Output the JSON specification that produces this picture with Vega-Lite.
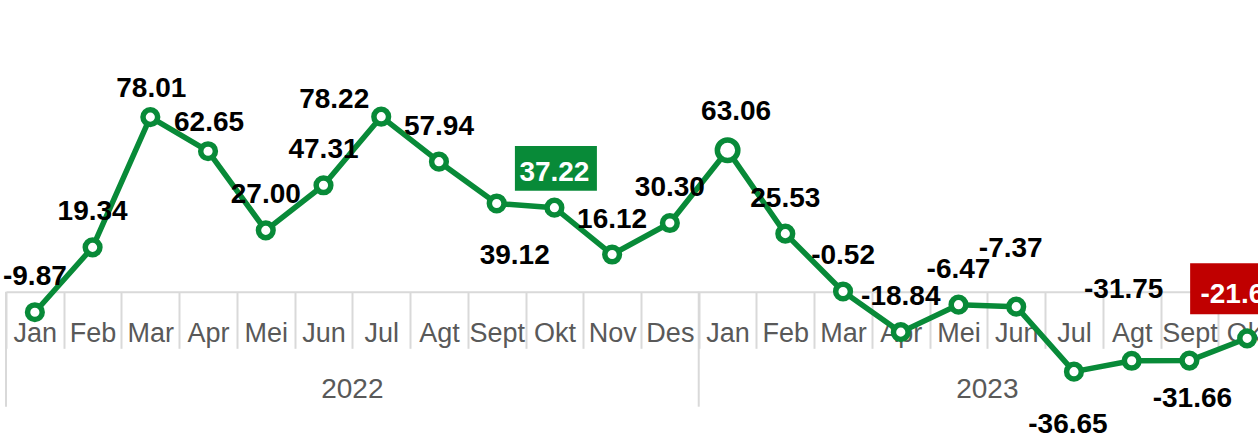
{
  "$schema": "https://vega.github.io/schema/vega-lite/v6.json",
  "width": 1258,
  "height": 435,
  "padding": 0,
  "autosize": {"type": "none"},
  "background": "white",
  "config": {
    "view": {"stroke": null},
    "locale": {"number": {"decimal": ".", "thousands": ",", "grouping": [3], "currency": ["$", ""], "minus": "-"}},
    "text": {"font": "Liberation Sans", "fontSize": 28, "fontWeight": "bold", "color": "#000000", "align": "center", "baseline": "alphabetic"}
  },
  "data": {
    "values": [
      {"period": "2022-01 Jan", "year": "2022", "month": 1, "value": -9.87},
      {"period": "2022-02 Feb", "year": "2022", "month": 2, "value": 19.34},
      {"period": "2022-03 Mar", "year": "2022", "month": 3, "value": 78.01},
      {"period": "2022-04 Apr", "year": "2022", "month": 4, "value": 62.65},
      {"period": "2022-05 Mei", "year": "2022", "month": 5, "value": 27.00},
      {"period": "2022-06 Jun", "year": "2022", "month": 6, "value": 47.31},
      {"period": "2022-07 Jul", "year": "2022", "month": 7, "value": 78.22},
      {"period": "2022-08 Agt", "year": "2022", "month": 8, "value": 57.94},
      {"period": "2022-09 Sept", "year": "2022", "month": 9, "value": 39.12},
      {"period": "2022-10 Okt", "year": "2022", "month": 10, "value": 37.22},
      {"period": "2022-11 Nov", "year": "2022", "month": 11, "value": 16.12},
      {"period": "2022-12 Des", "year": "2022", "month": 12, "value": 30.30},
      {"period": "2023-01 Jan", "year": "2023", "month": 1, "value": 63.06},
      {"period": "2023-02 Feb", "year": "2023", "month": 2, "value": 25.53},
      {"period": "2023-03 Mar", "year": "2023", "month": 3, "value": -0.52},
      {"period": "2023-04 Apr", "year": "2023", "month": 4, "value": -18.84},
      {"period": "2023-05 Mei", "year": "2023", "month": 5, "value": -6.47},
      {"period": "2023-06 Jun", "year": "2023", "month": 6, "value": -7.37},
      {"period": "2023-07 Jul", "year": "2023", "month": 7, "value": -36.65},
      {"period": "2023-08 Agt", "year": "2023", "month": 8, "value": -31.75},
      {"period": "2023-09 Sept", "year": "2023", "month": 9, "value": -31.66},
      {"period": "2023-10 Okt", "year": "2023", "month": 10, "value": -21.62}
    ]
  },
  "encoding": {
    "x": {
      "field": "period", "type": "ordinal",
      "scale": {"type": "band", "range": [6, 1276], "paddingInner": 0, "paddingOuter": 0},
      "axis": {
        "title": null, "tickBand": "extent", "labelExpr": "split(datum.value, ' ')[1]",
        "labelAngle": 0, "labelFont": "Liberation Sans", "labelFontSize": 27, "labelFontWeight": "normal",
        "labelColor": "#595959", "labelBaseline": "alphabetic", "labelPadding": -7,
        "tickSize": 56.6, "tickColor": "#d9d9d9", "tickWidth": 2,
        "domainColor": "#d9d9d9", "domainWidth": 2, "offset": -143.3,
        "labelOverlap": false, "labelBound": false, "labelFlush": false, "grid": false
      }
    },
    "y": {"field": "value", "type": "quantitative", "scale": {"domain": [-65.18, 130.77], "nice": false, "zero": false}, "axis": null}
  },
  "layer": [
    {
      "transform": [{"filter": "datum.month == 1"}],
      "mark": {"type": "rule", "color": "#d9d9d9", "strokeWidth": 2},
      "encoding": {
        "x": {"field": "period", "type": "ordinal", "bandPosition": 0},
        "y": {"datum": -0.63, "type": "quantitative"},
        "y2": {"datum": -52.43}
      }
    },
    {
      "transform": [
        {"joinaggregate": [{"op": "count", "as": "n"}], "groupby": ["year"]},
        {"filter": "datum.month == floor(datum.n / 2) + 1"}
      ],
      "mark": {"type": "text", "fontWeight": "normal", "color": "#595959", "fontSize": 28},
      "encoding": {
        "x": {"field": "period", "type": "ordinal", "bandPosition": 0},
        "y": {"datum": -48.52, "type": "quantitative"},
        "text": {"field": "year", "type": "nominal"}
      }
    },
    {
      "mark": {"type": "line", "color": "#088a38", "strokeWidth": 5.5, "strokeJoin": "round"}
    },
    {
      "mark": {"type": "point", "shape": "circle", "filled": true, "fill": "#ffffff", "stroke": "#088a38", "strokeWidth": 5.5, "opacity": 1},
      "encoding": {
        "size": {"condition": {"test": "datum.period == '2023-01 Jan'", "value": 420}, "value": 215}
      }
    },
    {
      "transform": [{"filter": {"field": "period", "oneOf": ["2022-10 Okt"]}}],
      "mark": {"type": "point", "shape": "M-1,-0.545H1V0.545H-1Z", "filled": true, "fill": "#088a38", "strokeWidth": 0, "opacity": 1, "size": 6724, "xOffset": 1.5, "yOffset": -39.3}
    },
    {
      "transform": [{"filter": {"field": "period", "oneOf": ["2023-10 Okt"]}}],
      "mark": {"type": "point", "shape": "M-1,-0.567H1V0.567H-1Z", "filled": true, "fill": "#c00000", "strokeWidth": 0, "opacity": 1, "size": 8100, "xOffset": -12, "yOffset": -49.5}
    },
    {
      "transform": [{"filter": {"field": "period", "oneOf": ["2022-01 Jan", "2022-02 Feb", "2022-05 Mei", "2022-06 Jun", "2022-08 Agt", "2022-11 Nov", "2022-12 Des", "2023-02 Feb", "2023-03 Mar", "2023-04 Apr", "2023-05 Mei"]}}],
      "mark": {"type": "text", "dy": -27},
      "encoding": {"text": {"field": "value", "type": "quantitative", "format": ".2f"}}
    },
    {
      "transform": [{"filter": {"field": "period", "oneOf": ["2022-03 Mar", "2022-04 Apr"]}}],
      "mark": {"type": "text", "dy": -20.5, "dx": 1},
      "encoding": {"text": {"field": "value", "type": "quantitative", "format": ".2f"}}
    },
    {
      "transform": [{"filter": {"field": "period", "oneOf": ["2022-07 Jul"]}}],
      "mark": {"type": "text", "dy": -8.5, "dx": -47},
      "encoding": {"text": {"field": "value", "type": "quantitative", "format": ".2f"}}
    },
    {
      "transform": [{"filter": {"field": "period", "oneOf": ["2022-09 Sept"]}}],
      "mark": {"type": "text", "dy": 61, "dx": 18},
      "encoding": {"text": {"field": "value", "type": "quantitative", "format": ".2f"}}
    },
    {
      "transform": [{"filter": {"field": "period", "oneOf": ["2023-01 Jan"]}}],
      "mark": {"type": "text", "dy": -30.5, "dx": 8.5},
      "encoding": {"text": {"field": "value", "type": "quantitative", "format": ".2f"}}
    },
    {
      "transform": [{"filter": {"field": "period", "oneOf": ["2023-06 Jun"]}}],
      "mark": {"type": "text", "dy": -50, "dx": -5.5},
      "encoding": {"text": {"field": "value", "type": "quantitative", "format": ".2f"}}
    },
    {
      "transform": [{"filter": {"field": "period", "oneOf": ["2023-08 Agt"]}}],
      "mark": {"type": "text", "dy": -62.7, "dx": -8},
      "encoding": {"text": {"field": "value", "type": "quantitative", "format": ".2f"}}
    },
    {
      "transform": [{"filter": {"field": "period", "oneOf": ["2023-07 Jul"]}}],
      "mark": {"type": "text", "dy": 61.5, "dx": -6},
      "encoding": {"text": {"field": "value", "type": "quantitative", "format": ".2f"}}
    },
    {
      "transform": [{"filter": {"field": "period", "oneOf": ["2023-09 Sept"]}}],
      "mark": {"type": "text", "dy": 46, "dx": 3},
      "encoding": {"text": {"field": "value", "type": "quantitative", "format": ".2f"}}
    },
    {
      "transform": [{"filter": {"field": "period", "oneOf": ["2022-10 Okt"]}}],
      "mark": {"type": "text", "dy": -27, "dx": 0, "color": "#ffffff"},
      "encoding": {"text": {"field": "value", "type": "quantitative", "format": ".2f"}}
    },
    {
      "transform": [{"filter": {"field": "period", "oneOf": ["2023-10 Okt"]}}],
      "mark": {"type": "text", "dy": -35.5, "dx": -46.7, "align": "left", "color": "#ffffff"},
      "encoding": {"text": {"field": "value", "type": "quantitative", "format": ".2f"}}
    }
  ]
}
